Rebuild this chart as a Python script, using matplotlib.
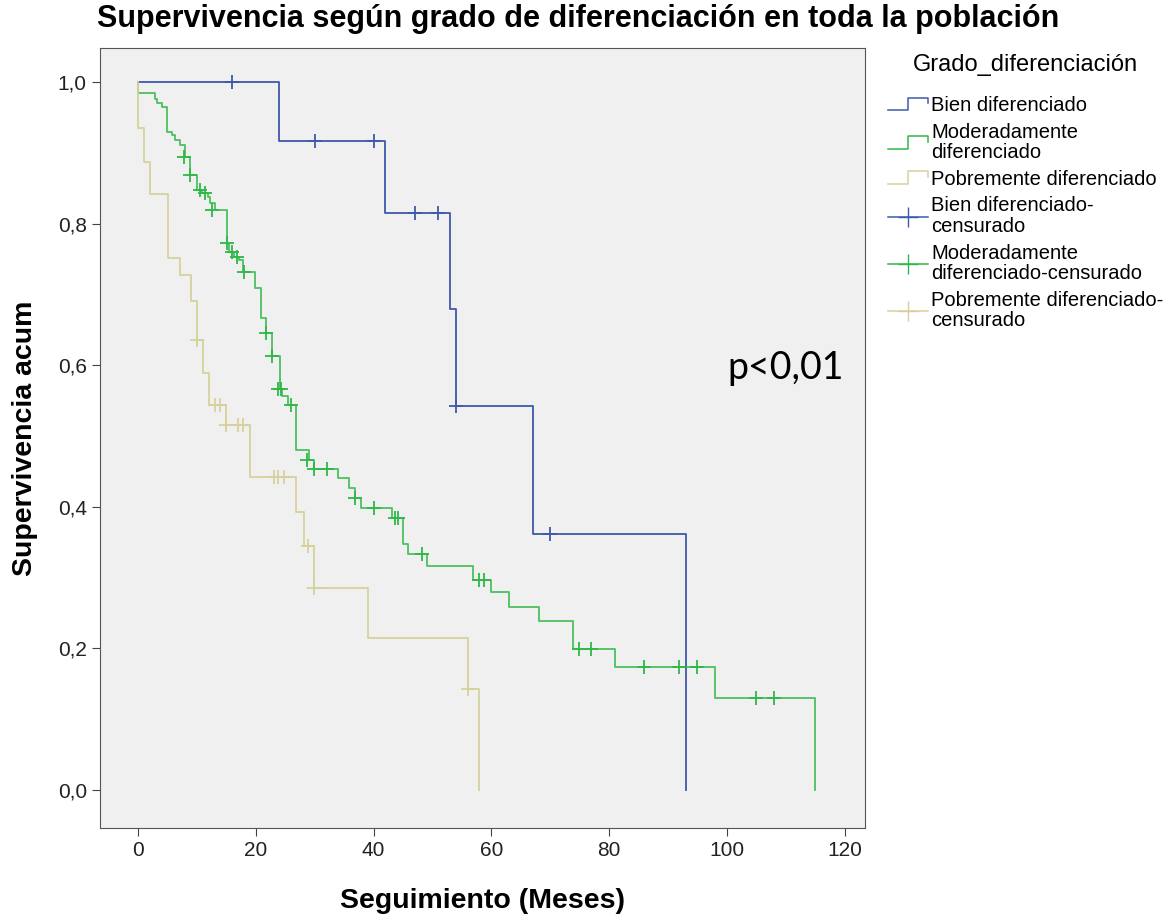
import numpy as np
import matplotlib
matplotlib.use("Agg")
import matplotlib.pyplot as plt
from matplotlib.lines import Line2D
from matplotlib.legend_handler import HandlerBase

plt.rcParams["font.family"] = ["Liberation Sans", "DejaVu Sans"]

# Kaplan-Meier steps (time in months, survival after the step)
bien_t = [0, 24, 42, 53, 54, 67, 93]
bien_s = [1.0, 0.917, 0.815, 0.680, 0.543, 0.362, 0.0]
bien_cens_t = [16, 30, 40, 47, 51, 54, 70]
bien_cens_s = [1.0, 0.917, 0.917, 0.815, 0.815, 0.543, 0.362]

mod_t = [0, 0, 2.9, 3.3, 4.0, 4.9, 5.7, 6.3, 7.1, 8.0, 8.8, 10.0, 10.8, 11.9, 12.2,
         13.1, 15.1, 15.5, 16.3, 17.2, 17.9, 19.9, 20.8, 21.8, 22.7, 24.1, 24.5, 25.5,
         26.9, 29.1, 29.8, 34.0, 35.9, 36.8, 37.9, 43.1, 45.0, 45.9, 49.0, 56.8, 59.9,
         63.0, 68.0, 73.9, 81.0, 98.0, 115.0]
mod_s = [1.0, 0.984, 0.976, 0.970, 0.965, 0.930, 0.925, 0.918, 0.911, 0.894, 0.869,
         0.847, 0.843, 0.838, 0.829, 0.819, 0.772, 0.760, 0.753, 0.748, 0.732, 0.709,
         0.666, 0.645, 0.613, 0.567, 0.556, 0.544, 0.480, 0.466, 0.453, 0.440, 0.426,
         0.412, 0.399, 0.384, 0.348, 0.333, 0.316, 0.297, 0.279, 0.259, 0.239, 0.199,
         0.174, 0.130, 0.0]
mod_cens_t = [7.8, 8.8, 10.5, 11.3, 12.6, 15.1, 16.0, 16.8, 18.0, 21.8, 22.7, 23.8,
              24.3, 26.0, 28.7, 29.8, 32.0, 36.8, 40.0, 43.6, 44.2, 48.2, 57.9, 58.7,
              74.9, 76.9, 85.9, 91.9, 94.9, 104.9, 107.9]
mod_cens_s = [0.894, 0.869, 0.847, 0.843, 0.819, 0.772, 0.760, 0.753, 0.732, 0.645,
              0.613, 0.567, 0.567, 0.544, 0.466, 0.453, 0.453, 0.412, 0.399, 0.384,
              0.384, 0.333, 0.297, 0.297, 0.199, 0.199, 0.174, 0.174, 0.174, 0.130,
              0.130]

pob_t = [0, 0, 1.0, 2.0, 5.1, 7.1, 9.0, 10.0, 11.1, 12.1, 14.9, 19.0, 26.9, 28.1,
         29.9, 39.0, 56.0, 57.9]
pob_s = [1.0, 0.935, 0.887, 0.842, 0.752, 0.728, 0.690, 0.636, 0.589, 0.544, 0.515,
         0.442, 0.392, 0.344, 0.285, 0.214, 0.142, 0.0]
pob_cens_t = [10.0, 13.1, 13.9, 14.9, 17.0, 17.9, 23.0, 23.8, 24.7, 28.9, 29.9, 56.0]
pob_cens_s = [0.636, 0.544, 0.544, 0.515, 0.515, 0.515, 0.442, 0.442, 0.442, 0.344,
              0.285, 0.142]

x_ticks = [0, 20, 40, 60, 80, 100, 120]
y_ticks = [0.0, 0.2, 0.4, 0.6, 0.8, 1.0]
y_tick_labels = ["0,0", "0,2", "0,4", "0,6", "0,8", "1,0"]

c_bien = "#3e58ac"
c_mod = "#2fb847"
c_pob = "#d6d19c"


class StepHandler(HandlerBase):
    def create_artists(self, legend, orig_handle, xdescent, ydescent, width, height,
                       fontsize, trans):
        x = np.array([0, 0.5, 0.5, 1.0, 1.0]) * width - xdescent
        y = np.array([0.05, 0.05, 0.95, 0.95, 0.55]) * height - ydescent
        ln = Line2D(x, y, color=orig_handle.get_color(), lw=1.1)
        ln.set_transform(trans)
        return [ln]


fig = plt.figure(figsize=(11.73, 9.18), dpi=100)
ax = fig.add_axes([0.0853, 0.098, 0.652, 0.8497])
ax.set_facecolor("#f0f0f0")

lw = 1.3
ax.step(bien_t, bien_s, where="post", color=c_bien, lw=lw)
ax.step(mod_t, mod_s, where="post", color=c_mod, lw=lw, alpha=0.85)
ax.step(pob_t, pob_s, where="post", color=c_pob, lw=lw)
ax.plot(bien_cens_t, bien_cens_s, "+", color=c_bien, ms=10, mew=1.3)
ax.plot(mod_cens_t, mod_cens_s, "+", color=c_mod, ms=10, mew=1.3)
ax.plot(pob_cens_t, pob_cens_s, "+", color=c_pob, ms=10, mew=1.3)

ax.set_xlim(-6.45, 123.4)
ax.set_ylim(-0.0537, 1.048)
ax.set_xticks(x_ticks)
ax.set_yticks(y_ticks)
ax.set_yticklabels(y_tick_labels)
ax.tick_params(labelsize=15, length=6, color="#444444", labelcolor="#222222")
for sp in ax.spines.values():
    sp.set_color("#555555")

ax.set_xlabel("Seguimiento (Meses)", fontsize=20.5, fontweight="bold", labelpad=20)
ax.set_ylabel("Supervivencia acum", fontsize=20.5, fontweight="bold", labelpad=14)
fig.text(0.083, 0.979, "Supervivencia según grado de diferenciación en toda la población",
         fontsize=22, fontweight="bold", va="center", ha="left")

ax.text(110, 0.596, "p<0,01", fontsize=27, family=["Lato", "DejaVu Sans"],
        ha="center", va="center")

h_bien = Line2D([], [], color=c_bien)
h_mod = Line2D([], [], color=c_mod)
h_pob = Line2D([], [], color=c_pob)
hc_bien = Line2D([], [], color=c_bien, marker="+", ms=14, lw=1.1)
hc_mod = Line2D([], [], color=c_mod, marker="+", ms=14, lw=1.1)
hc_pob = Line2D([], [], color=c_pob, marker="+", ms=14, lw=1.1)

handles = [h_bien, h_mod, h_pob, hc_bien, hc_mod, hc_pob]
labels = ["Bien diferenciado", "Moderadamente\ndiferenciado", "Pobremente diferenciado",
          "Bien diferenciado-\ncensurado", "Moderadamente\ndiferenciado-censurado",
          "Pobremente diferenciado-\ncensurado"]
step_h = StepHandler()
leg = fig.legend(handles, labels, loc="upper left", bbox_to_anchor=(0.745, 0.956),
                 frameon=False, fontsize=14.5, title="Grado_diferenciación",
                 title_fontsize=17, handlelength=2.0, handletextpad=0.15,
                 labelspacing=0.38, numpoints=1, borderpad=0.2,
                 handler_map={h_bien: step_h, h_mod: step_h, h_pob: step_h})
for t in leg.get_texts():
    t.set_linespacing(1.1)
leg._legend_box.sep = 14

fig.savefig("out.png", dpi=100)
